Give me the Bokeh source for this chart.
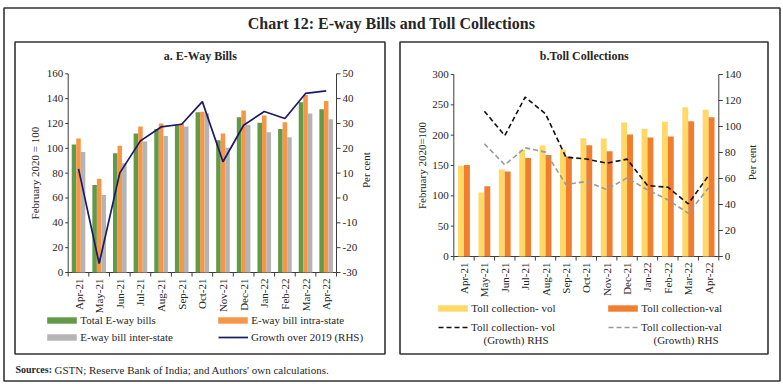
from math import pi
from bokeh.plotting import figure
from bokeh.models import Range1d, LinearScale, Legend, LegendItem, ColumnDataSource
from bokeh.transform import dodge
from bokeh.embed import file_html
from bokeh.resources import INLINE
from bokeh.core.properties import value

# ---------------- data ----------------
months = ["Apr-21", "May-21", "Jun-21", "Jul-21", "Aug-21", "Sep-21", "Oct-21",
          "Nov-21", "Dec-21", "Jan-22", "Feb-22", "Mar-22", "Apr-22"]

eway_total = [103, 70.5, 96, 112, 115.5, 118.5, 129, 106.5, 125, 120.5, 115.5, 137, 131.5]
eway_intra = [108, 75.5, 102, 117.5, 120, 120, 129.5, 112, 130.5, 126.5, 121, 143, 138]
eway_inter = [97, 62.5, 88, 105.5, 110, 117.5, 128, 100.5, 119, 113, 109, 128, 123.5]
eway_growth = [11.7, -26.4, 10.1, 23, 28.6, 29.7, 38.8, 14.6, 29.3, 34.8, 32, 42.1, 43.1]

toll_vol = [149.5, 105.5, 143.5, 176, 183, 176.5, 195, 194.5, 221, 210.5, 222, 246, 242]
toll_val = [151, 116, 140, 162.5, 167.5, 165, 183.5, 173.5, 201, 196, 198, 223, 229.5]
nan = float("nan")
toll_vol_growth = [nan, 111.8, 93, 122.6, 109.7, 76.4, 75, 71.8, 74.9, 54.6, 53.3, 40.5, 62.3]
toll_val_growth = [nan, 86.7, 70.5, 83.6, 80.3, 55.4, 57.7, 51.5, 60.5, 51.3, 43.6, 33.3, 52.8]

eway_left_ticks = [0, 20, 40, 60, 80, 100, 120, 140, 160]
eway_right_ticks = [-30, -20, -10, 0, 10, 20, 30, 40, 50]
toll_left_ticks = [0, 50, 100, 150, 200, 250, 300]
toll_right_ticks = [0, 20, 40, 60, 80, 100, 120, 140]

TITLE = "Chart 12: E-way Bills and Toll Collections"
SUB_A = "a. E-Way Bills"
SUB_B = "b.Toll Collections"
SOURCE_B = "Sources:"
SOURCE_T = "GSTN; Reserve Bank of India; and Authors' own calculations."

# ---------------- style / layout (pixels on the page) ----------------
W, H = 783, 384
FONT = "Liberation Serif"
TXT = "#262626"
AXC = "#3c3c3c"
GREEN, ORANGE, GREY, NAVY = "#629A48", "#F79646", "#B4B4B4", "#1C1A66"
YELLOW, DORANGE = "#FFD966", "#F07E2E"
FS = "11px"

# plot frames: (left px, right px, bottom px, top px)
FRAME_A = (67.7, 336.0, 272.0, 73.3)
FRAME_B = (453.3, 718.3, 256.0, 74.0)

p = figure(width=W, height=H, x_range=Range1d(0, W), y_range=Range1d(H, 0),
           x_axis_location=None, y_axis_location=None, min_border=0,
           outline_line_color=None, toolbar_location=None, output_backend="svg")
p.grid.grid_line_color = None


def x_range_for(n, px0, px1):
    k = (px1 - px0) / n
    return Range1d(-px0 / k, (W - px0) / k)


def y_range_for(vmin, vmax, pbot, ptop):
    k = (pbot - ptop) / (vmax - vmin)
    return Range1d(vmin - (H - pbot) / k, vmin + pbot / k)


n = len(months)
slots = [i + 0.5 for i in range(n)]
bounds = list(range(n + 1))

p.extra_x_ranges = {"xa": x_range_for(n, FRAME_A[0], FRAME_A[1]),
                    "xb": x_range_for(n, FRAME_B[0], FRAME_B[1])}
p.extra_x_scales = {"xa": LinearScale(), "xb": LinearScale()}
p.extra_y_ranges = {
    "ya": y_range_for(eway_left_ticks[0], eway_left_ticks[-1], FRAME_A[2], FRAME_A[3]),
    "ya2": y_range_for(eway_right_ticks[0], eway_right_ticks[-1], FRAME_A[2], FRAME_A[3]),
    "yb": y_range_for(toll_left_ticks[0], toll_left_ticks[-1], FRAME_B[2], FRAME_B[3]),
    "yb2": y_range_for(toll_right_ticks[0], toll_right_ticks[-1], FRAME_B[2], FRAME_B[3]),
}
p.extra_y_scales = {k: LinearScale() for k in p.extra_y_ranges}


def txt(x, y, s, size=FS, align="left", baseline="middle", style="normal", angle=0, **kw):
    return p.text(x=x, y=y, text=s, text_align=align, text_baseline=baseline,
                  text_font=value(FONT), text_font_size=size, text_font_style=style,
                  text_color=TXT, angle=angle, **kw)


# ---------------- frames / borders ----------------
p.quad(left=[3.5], right=[779.5], top=[7.5], bottom=[380.5], fill_color=None,
       line_color="#333333", line_width=1.6)
p.quad(left=[14.5, 399.5], right=[384.5, 767.5], top=[41.5, 41.5], bottom=[353.5, 353.5],
       fill_color=None, line_color="#333333", line_width=1.6)
txt([391], [23], [TITLE], size="16px", align="center", style="bold")
txt([15], [369], [SOURCE_B], size="10px", style="bold")
txt([54], [369], [SOURCE_T], size="11px")


def draw_axes(frame, xr, yl, yr, lticks, rticks, llabel, rlabel, sub, lab_x, rlab_x):
    fl, fr, fb, ft = frame
    mid = (fb + ft) / 2
    # subtitle
    txt([(fl + fr) / 2 - 2], [55], [sub], size="12px", align="center", style="bold")
    # x axis line, boundary ticks and category labels
    p.segment(x0=[0], y0=[fb], x1=[n], y1=[fb], x_range_name=xr, line_color=AXC, line_width=1)
    p.segment(x0=bounds, y0=[fb] * len(bounds), x1=bounds, y1=[fb + 4] * len(bounds),
              x_range_name=xr, line_color=AXC, line_width=1)
    txt(slots, [fb + 6] * n, months, align="right", angle=pi / 2, x_range_name=xr)
    # left axis
    p.segment(x0=[fl], y0=[lticks[0]], x1=[fl], y1=[lticks[-1]], y_range_name=yl,
              line_color=AXC, line_width=1)
    p.segment(x0=[fl - 3] * len(lticks), y0=lticks, x1=[fl] * len(lticks), y1=lticks,
              y_range_name=yl, line_color=AXC, line_width=1)
    txt([fl - 5] * len(lticks), lticks, [str(t) for t in lticks], align="right", y_range_name=yl)
    txt([lab_x], [mid], [llabel], align="center", angle=pi / 2)
    # right axis
    p.segment(x0=[fr], y0=[rticks[0]], x1=[fr], y1=[rticks[-1]], y_range_name=yr,
              line_color=AXC, line_width=1)
    p.segment(x0=[fr] * len(rticks), y0=rticks, x1=[fr + 4] * len(rticks), y1=rticks,
              y_range_name=yr, line_color=AXC, line_width=1)
    txt([fr + 6] * len(rticks), rticks, [str(t) for t in rticks], align="left", y_range_name=yr)
    txt([rlab_x], [mid - 3], [rlabel], align="center", angle=pi / 2)


def add_legend(renderer, label, x_left, y_center, is_line):
    if is_line:
        gw, gh, vx, so = 30, 8, x_left, 3
    else:
        gw, gh, vx, so = 37, 8, x_left - 3.7, 0
    lg = Legend(items=[LegendItem(label=label, renderers=[renderer])],
                location=(vx, H - y_center - 6.5), padding=0, margin=0, spacing=0,
                border_line_color=None, background_fill_alpha=0,
                glyph_width=gw, glyph_height=gh, label_standoff=so, label_height=13,
                label_text_font=FONT, label_text_font_size=FS, label_text_color=TXT)
    p.add_layout(lg, "center")


# ---------------- chart a ----------------
src_a = ColumnDataSource(dict(pos=slots, total=eway_total, intra=eway_intra,
                              inter=eway_inter, growth=eway_growth))
draw_axes(FRAME_A, "xa", "ya", "ya2", eway_left_ticks, eway_right_ticks,
          "February 2020 = 100", "Per cent", SUB_A, 34, 365)
ra1 = p.vbar(x=dodge("pos", -0.22), top="total", width=0.22, source=src_a,
             x_range_name="xa", y_range_name="ya", fill_color=GREEN, line_color=None)
ra2 = p.vbar(x=dodge("pos", 0.0), top="intra", width=0.22, source=src_a,
             x_range_name="xa", y_range_name="ya", fill_color=ORANGE, line_color=None)
ra3 = p.vbar(x=dodge("pos", 0.22), top="inter", width=0.22, source=src_a,
             x_range_name="xa", y_range_name="ya", fill_color=GREY, line_color=None)
ra4 = p.line(x="pos", y="growth", source=src_a, x_range_name="xa", y_range_name="ya2",
             line_color=NAVY, line_width=1.7)
add_legend(ra1, "Total E-way bills", 47, 320, False)
add_legend(ra2, "E-way bill intra-state", 218, 320, False)
add_legend(ra3, "E-way bill inter-state", 47, 337, False)
add_legend(ra4, "Growth over 2019 (RHS)", 218, 337, True)

# ---------------- chart b ----------------
src_b = ColumnDataSource(dict(pos=slots, vol=toll_vol, val=toll_val,
                              volg=toll_vol_growth, valg=toll_val_growth))
draw_axes(FRAME_B, "xb", "yb", "yb2", toll_left_ticks, toll_right_ticks,
          "February 2020=100", "Per cent", SUB_B, 421, 751)
rb1 = p.vbar(x=dodge("pos", -0.145), top="vol", width=0.29, source=src_b,
             x_range_name="xb", y_range_name="yb", fill_color=YELLOW, line_color=None)
rb2 = p.vbar(x=dodge("pos", 0.145), top="val", width=0.29, source=src_b,
             x_range_name="xb", y_range_name="yb", fill_color=DORANGE, line_color=None)
rb3 = p.line(x="pos", y="volg", source=src_b, x_range_name="xb", y_range_name="yb2",
             line_color="#111111", line_width=1.6, line_dash="5 3")
rb4 = p.line(x="pos", y="valg", source=src_b, x_range_name="xb", y_range_name="yb2",
             line_color="#9A9A9A", line_width=1.6, line_dash="5 3")
add_legend(rb1, "Toll collection- vol", 438, 308, False)
add_legend(rb2, "Toll collection-val", 608, 308, False)
add_legend(rb3, "Toll collection- vol", 438, 327, True)
add_legend(rb4, "Toll collection-val", 608, 327, True)
txt([483, 653], [339, 339], ["(Growth) RHS", "(Growth) RHS"])

open("out.html", "w").write(file_html(p, INLINE))
